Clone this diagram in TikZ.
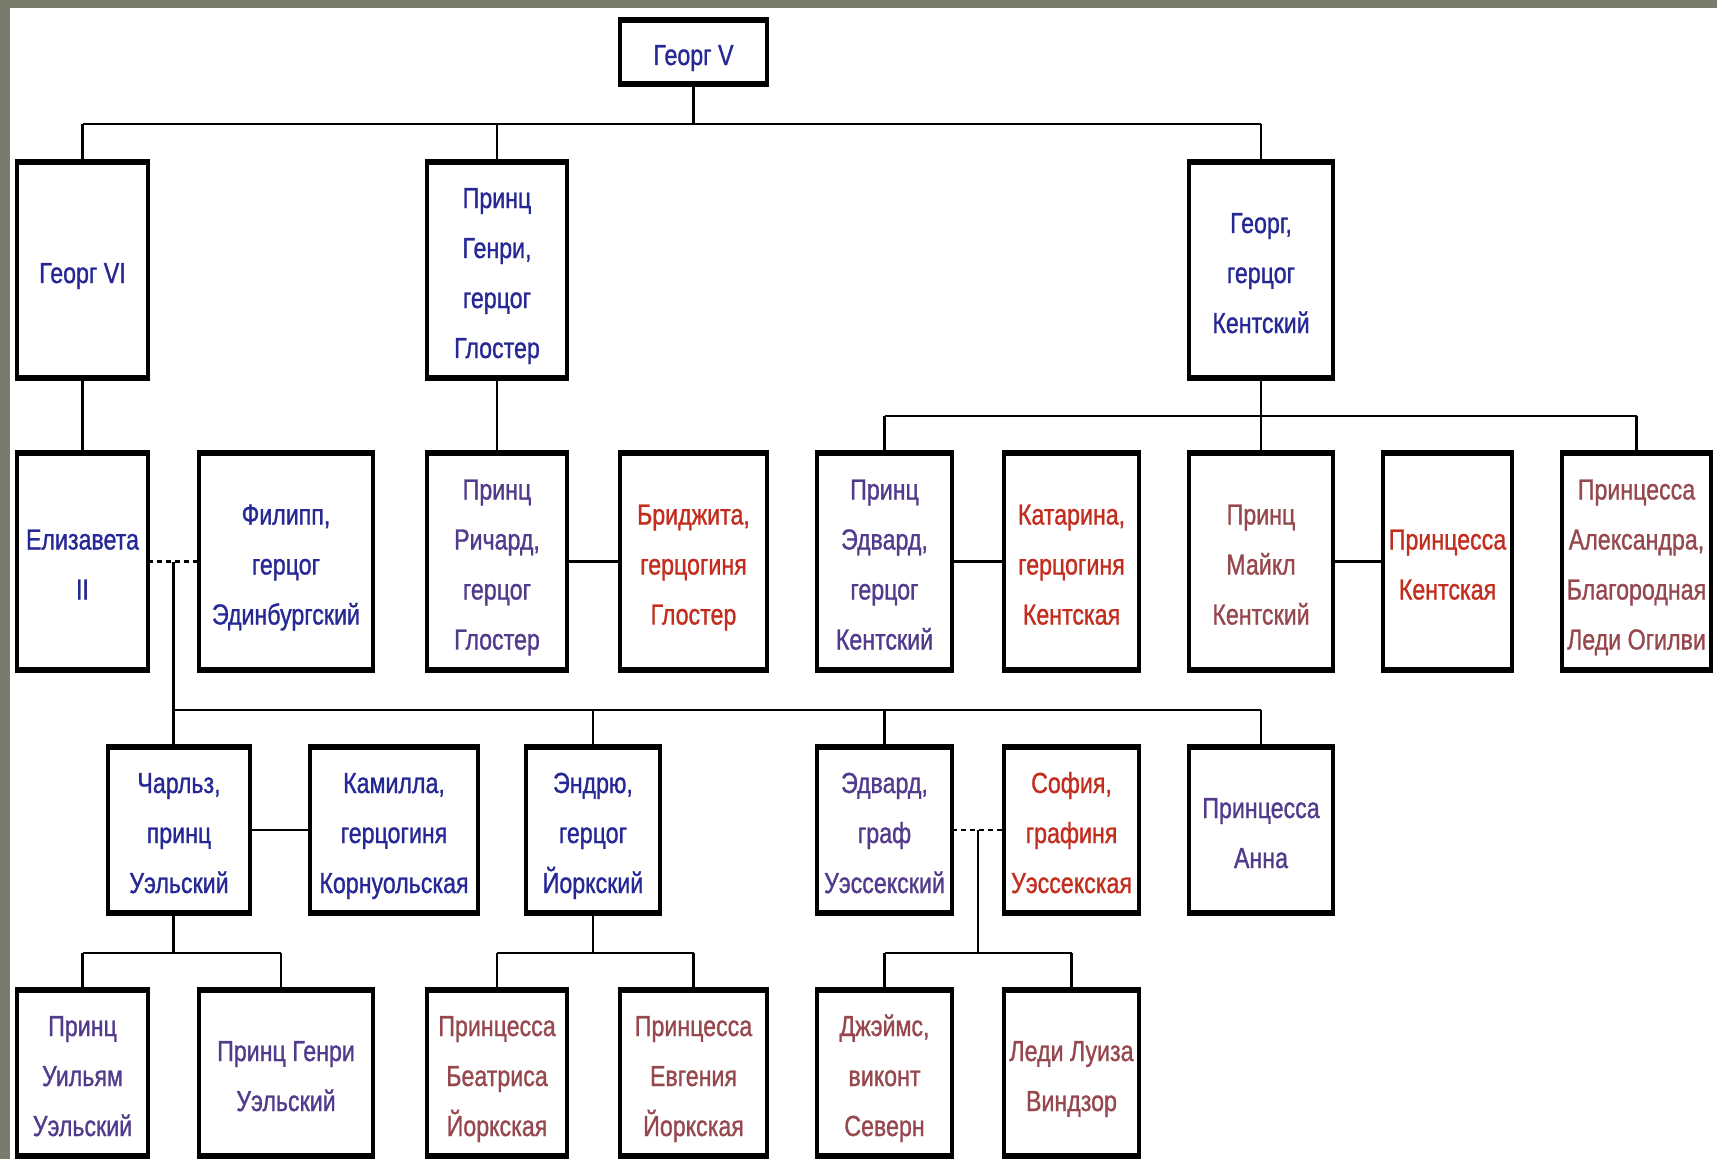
\documentclass[tikz,border=0pt]{standalone}
\usepackage{fontspec}
\setmainfont[FakeStretch=0.8,FakeBold=1]{Liberation Sans}
\usetikzlibrary{calc}
\definecolor{frameg}{RGB}{122,123,106}
\definecolor{cnavy}{RGB}{38,40,150}
\definecolor{cpurp}{RGB}{82,58,140}
\definecolor{cred}{RGB}{195,45,30}
\definecolor{cmauve}{RGB}{150,72,78}
\newcommand{\tp}{\rule{0pt}{35pt}}
\tikzset{
  box/.style={draw=black, line width=4pt, fill=white, align=center, inner sep=0pt, outer sep=0pt,
    font=\fontsize{29}{50}\selectfont,
    execute at end node={\rule[-9pt]{0pt}{9pt}}},
  nv/.style={text=cnavy}, pu/.style={text=cpurp}, rd/.style={text=cred}, mv/.style={text=cmauve},
  link/.style={line width=2.5pt, black},
  marr/.style={line width=2.5pt, black},
  dotm/.style={line width=2.5pt, black, dash pattern=on 5pt off 4pt},
  rowA/.style={minimum height=216pt},
  rowB/.style={minimum height=217pt},
  rowC/.style={minimum height=166pt},
  rowD/.style={minimum height=166pt}
}
\begin{document}
\begin{tikzpicture}[x=1pt,y=-1pt]
\fill[frameg] (0,0) rectangle (1717,1159);
\fill[white] (10,8) rectangle (1717,1159);
\useasboundingbox (0,0) rectangle (1717,1159);

% row 0
\node[box,nv,minimum width=147pt,minimum height=64pt] (gv) at (693.5,52) {\tp Георг V};
% row 1
\node[box,nv,rowA,minimum width=131pt] (g6) at (82.5,270) {\tp Георг VI};
\node[box,nv,rowA,minimum width=140pt] (henry) at (497,270) {\tp Принц\\Генри,\\герцог\\Глостер};
\node[box,nv,rowA,minimum width=144pt] (gkent) at (1261,270) {\tp Георг,\\герцог\\Кентский};
% row 2
\node[box,nv,rowB,minimum width=131pt] (eliz) at (82.5,561.5) {\tp Елизавета\\II};
\node[box,nv,rowB,minimum width=174pt] (phil) at (286,561.5) {\tp Филипп,\\герцог\\Эдинбургский};
\node[box,pu,rowB,minimum width=140pt] (rich) at (497,561.5) {\tp Принц\\Ричард,\\герцог\\Глостер};
\node[box,rd,rowB,minimum width=147pt] (brig) at (693.5,561.5) {\tp Бриджита,\\герцогиня\\Глостер};
\node[box,pu,rowB,minimum width=135pt] (edk) at (884.5,561.5) {\tp Принц\\Эдвард,\\герцог\\Кентский};
\node[box,rd,rowB,minimum width=135pt] (kath) at (1071.5,561.5) {\tp Катарина,\\герцогиня\\Кентская};
\node[box,mv,rowB,minimum width=144pt] (mich) at (1261,561.5) {\tp Принц\\Майкл\\Кентский};
\node[box,rd,rowB,minimum width=129pt] (pkent) at (1447.5,561.5) {\tp Принцесса\\Кентская};
\node[box,mv,rowB,minimum width=149pt] (alex) at (1636.5,561.5) {\tp Принцесса\\Александра,\\Благородная\\Леди Огилви};
% row 3
\node[box,nv,rowC,minimum width=142pt] (charles) at (179,830) {\tp Чарльз,\\принц\\Уэльский};
\node[box,nv,rowC,minimum width=168pt] (camilla) at (394,830) {\tp Камилла,\\герцогиня\\Корнуольская};
\node[box,nv,rowC,minimum width=134pt] (andrew) at (593,830) {\tp Эндрю,\\герцог\\Йоркский};
\node[box,pu,rowC,minimum width=135pt] (edw) at (884.5,830) {\tp Эдвард,\\граф\\Уэссекский};
\node[box,rd,rowC,minimum width=135pt] (sophie) at (1071.5,830) {\tp София,\\графиня\\Уэссекская};
\node[box,pu,rowC,minimum width=144pt] (anne) at (1261,830) {\tp Принцесса\\Анна};
% row 4
\node[box,pu,rowD,minimum width=131pt] (will) at (82.5,1073) {\tp Принц\\Уильям\\Уэльский};
\node[box,pu,rowD,minimum width=174pt] (harry) at (286,1073) {\tp Принц Генри\\Уэльский};
\node[box,mv,rowD,minimum width=140pt] (bea) at (497,1073) {\tp Принцесса\\Беатриса\\Йоркская};
\node[box,mv,rowD,minimum width=147pt] (eug) at (693.5,1073) {\tp Принцесса\\Евгения\\Йоркская};
\node[box,mv,rowD,minimum width=135pt] (james) at (884.5,1073) {\tp Джэймс,\\виконт\\Северн};
\node[box,mv,rowD,minimum width=135pt] (louise) at (1071.5,1073) {\tp Леди Луиза\\Виндзор};

% thick top and bottom edges
\foreach \n in {gv,g6,henry,gkent,eliz,phil,rich,brig,edk,kath,mich,pkent,alex,charles,camilla,andrew,edw,sophie,anne,will,harry,bea,eug,james,louise}{
  \draw[line width=6pt] ([xshift=-2pt]\n.north west) -- ([xshift=2pt]\n.north east);
  \draw[line width=6pt] ([xshift=-2pt]\n.south west) -- ([xshift=2pt]\n.south east);
}

% level lines
\coordinate (r1) at (0,124);
\coordinate (rk) at (0,416);
\coordinate (r3) at (0,710);
\coordinate (r4) at (0,953);

% George V children
\draw[link] (gv.south) -- (gv.south |- r1);
\draw[link] (g6.north |- r1) -- (gkent.north |- r1);
\draw[link] (g6.north |- r1) -- (g6.north);
\draw[link] (henry.north |- r1) -- (henry.north);
\draw[link] (gkent.north |- r1) -- (gkent.north);

% single-child lines
\draw[link] (g6.south) -- (eliz.north);
\draw[link] (henry.south) -- (rich.north);

% Kent children
\draw[link] (gkent.south) -- (gkent.south |- rk);
\draw[link] (edk.north |- rk) -- (alex.north |- rk);
\draw[link] (edk.north |- rk) -- (edk.north);
\draw[link] (mich.north |- rk) -- (mich.north);
\draw[link] (alex.north |- rk) -- (alex.north);

% marriages row 2
\draw[dotm] (eliz.east) -- (phil.west);
\draw[marr] (rich.east) -- (brig.west);
\draw[marr] (edk.east) -- (kath.west);
\draw[marr] (mich.east) -- (pkent.west);

% Elizabeth children
\coordinate (m1) at ($(eliz.east)!0.5!(phil.west)$);
\draw[link] (m1) -- (m1 |- r3);
\draw[link] (m1 |- r3) -- (anne.north |- r3);
\draw[link] (m1 |- r3) -- (m1 |- charles.north);
\draw[link] (andrew.north |- r3) -- (andrew.north);
\draw[link] (edw.north |- r3) -- (edw.north);
\draw[link] (anne.north |- r3) -- (anne.north);

% marriages row 3
\draw[marr] (charles.east) -- (camilla.west);
\draw[dotm] (edw.east) -- (sophie.west);

% Charles children
\draw[link] (m1 |- charles.south) -- (m1 |- r4);
\draw[link] (will.north |- r4) -- ([xshift=-5pt]harry.north |- r4);
\draw[link] (will.north |- r4) -- (will.north);
\draw[link] ([xshift=-5pt]harry.north |- r4) -- ([xshift=-5pt]harry.north);

% Andrew children
\draw[link] (andrew.south) -- (andrew.south |- r4);
\draw[link] (bea.north |- r4) -- (eug.north |- r4);
\draw[link] (bea.north |- r4) -- (bea.north);
\draw[link] (eug.north |- r4) -- (eug.north);

% Edward children
\coordinate (m2) at ($(edw.east)!0.5!(sophie.west)$);
\draw[link] (m2) -- (m2 |- r4);
\draw[link] (james.north |- r4) -- (louise.north |- r4);
\draw[link] (james.north |- r4) -- (james.north);
\draw[link] (louise.north |- r4) -- (louise.north);
\end{tikzpicture}
\end{document}
